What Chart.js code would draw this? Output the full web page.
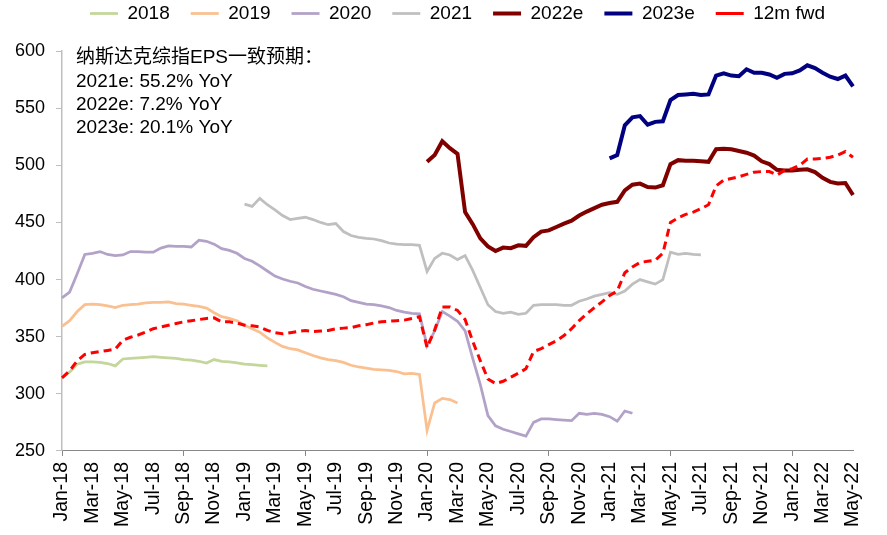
<!DOCTYPE html>
<html>
<head>
<meta charset="utf-8">
<script src="https://cdn.jsdelivr.net/npm/chart.js@4/dist/chart.umd.min.js"></script>
<style>
html,body{margin:0;padding:0;background:#fff;}
#wrap{width:887px;height:535px;position:relative;}
</style>
</head>
<body>
<div id="wrap"><canvas id="c" width="887" height="535" style="width:887px;height:535px"></canvas></div>
<script>
// Categories: half-month observation dates
const categories = [
'2018-01-01','2018-01-16','2018-02-01','2018-02-16','2018-03-01','2018-03-16','2018-04-01','2018-04-16','2018-05-01','2018-05-16','2018-06-01','2018-06-16',
'2018-07-01','2018-07-16','2018-08-01','2018-08-16','2018-09-01','2018-09-16','2018-10-01','2018-10-16','2018-11-01','2018-11-16','2018-12-01','2018-12-16',
'2019-01-01','2019-01-16','2019-02-01','2019-02-16','2019-03-01','2019-03-16','2019-04-01','2019-04-16','2019-05-01','2019-05-16','2019-06-01','2019-06-16',
'2019-07-01','2019-07-16','2019-08-01','2019-08-16','2019-09-01','2019-09-16','2019-10-01','2019-10-16','2019-11-01','2019-11-16','2019-12-01','2019-12-16',
'2020-01-01','2020-01-16','2020-02-01','2020-02-16','2020-03-01','2020-03-16','2020-04-01','2020-04-16','2020-05-01','2020-05-16','2020-06-01','2020-06-16',
'2020-07-01','2020-07-16','2020-08-01','2020-08-16','2020-09-01','2020-09-16','2020-10-01','2020-10-16','2020-11-01','2020-11-16','2020-12-01','2020-12-16',
'2021-01-01','2021-01-16','2021-02-01','2021-02-16','2021-03-01','2021-03-16','2021-04-01','2021-04-16','2021-05-01','2021-05-16','2021-06-01','2021-06-16',
'2021-07-01','2021-07-16','2021-08-01','2021-08-16','2021-09-01','2021-09-16','2021-10-01','2021-10-16','2021-11-01','2021-11-16','2021-12-01','2021-12-16',
'2022-01-01','2022-01-16','2022-02-01','2022-02-16','2022-03-01','2022-03-16','2022-04-01','2022-04-16','2022-05-01'
];

// Tick labels (every two months)
const tickLabels = ['Jan-18','Mar-18','May-18','Jul-18','Sep-18','Nov-18','Jan-19','Mar-19','May-19','Jul-19','Sep-19','Nov-19',
'Jan-20','Mar-20','May-20','Jul-20','Sep-20','Nov-20','Jan-21','Mar-21','May-21','Jul-21','Sep-21','Nov-21','Jan-22','Mar-22','May-22'];

const seriesNames = ['2018','2019','2020','2021','2022e','2023e','12m fwd'];

// EPS consensus values (start date + half-month values)
const start2018 = '2018-01-01';
const eps2018 = [314,319,326,328,328,327.5,326.5,324.5,330.5,331,
331.5,332,332.5,332,331.5,331,330,329.5,328.5,327,
330,328.5,328,327,326,325.5,325,324.5];

const start2019 = '2018-01-01';
const eps2019 = [359,364,372,378,378.5,378,377,375.5,377.5,378,
378.5,379.5,380,380,380.5,379,378.5,377.5,376.5,375,
371,367.5,366,364,360,357,354,349,345,341.5,
339.5,338.5,336,333.5,331.5,330,329,327.5,325,323.5,
322.5,321.5,321,320.5,319.5,317.5,318,317,268,292,
296,295,292];

const start2020 = '2018-01-01';
const eps2020 = [384,389,405,422,423,424.5,422,421,421.5,424.5,
424.5,424,424,427.5,429.5,429,429,428.5,434.5,433.5,
431,427,425.5,423,418.5,416,412,407.5,403,400.5,
398.5,397,394,391.5,390,388.5,387,385,381.5,380,
378.5,378,377,375.5,373,371.5,370.5,370,342,355,
372,368,363.5,355,331,308,281,272,269,267,
265,263,275,278,278,277.5,277,276.5,283,282,
283,282,280,276,285,283];

const start2021 = '2019-01-01';
const eps2021 = [466,464,471,465.5,461,456,452.5,453.5,454.5,452.5,
450,448,449,442,438.5,437,436,435.5,434,432,
431,430.5,430.5,430,407,418.5,423,421.5,417.5,421,
408,393,378,372,370.5,371.5,369.5,370.5,377.5,378,
378,378,377.5,377.5,381,383,385.5,387,388.5,387,
390,396,400,398,396,400,424,422,423,422,
421.5];

const start2022e = '2020-01-01';
const eps2022e = [503,509,521,515,510,459,448.5,436,429,425,
428,427.5,430,429.5,437,442,443,446,449,451.5,
456,459.5,462.5,465.5,467,468,478,483,484,481,
480.5,482.5,501,504.5,504,504,503.5,503,514,514.5,
514,512.5,511,508.5,503.5,501,496,495.5,495.5,496,
496.5,494,489,485.5,484,484.5,474];

const start2023e = '2021-01-01';
const eps2023e = [506,509,535,542,543,535.5,538,538.5,557,561.5,
562,562.5,561.5,562,578.5,580.5,578.5,578,584,581,
581,579.5,576.5,580,580.5,583,587.5,585,581,577.5,
575.5,578.5,569];

const startFwd = '2018-01-01';
const fwd12m = [314,320,329,334.5,336,337,338,339,347,349.5,
351.5,354,357,358.5,360,361.5,363,364,365,366,
366.5,363,363,362,360,359.5,358.5,355.5,353.5,352.5,
353.5,354.5,355.5,354.5,355,355.5,357,357.5,358,359.5,
360.5,362,363,363.5,364,364.5,366,367.5,340.5,356,
376,376,373,365,346,329,313,309,311,314.5,
318,322,337,339.5,343,346.5,351,357,364,370,
375.5,380.5,386,390,406,411,415,416,417,423,
450,454,457,459,462,465.5,482,487,488.5,490,
492,494,494.5,494.5,491.5,495.5,497,500,505.5,505.5,
506,507,509,512,507];

const noteLines = ['纳斯达克综指EPS一致预期：','2021e: 55.2% YoY','2022e: 7.2% YoY','2023e: 20.1% YoY'];

function seriesData(start, values) {
  const s = categories.indexOf(start);
  return values.map((v, k) => ({x: categories[s + k], y: v}));
}

const FONT = "Arial, 'Liberation Sans', 'Noto Sans CJK SC', sans-serif";
Chart.defaults.font.family = FONT;
Chart.defaults.font.size = 18;
Chart.defaults.color = '#000';

function ds(label, start, values, color, width, order, dash) {
  return {
    label: label,
    data: seriesData(start, values),
    borderColor: color,
    backgroundColor: color,
    borderWidth: width,
    borderDash: dash || [],
    pointRadius: 0,
    pointHoverRadius: 0,
    tension: 0,
    fill: false,
    spanGaps: false,
    order: order
  };
}

const notePlugin = {
  id: 'note',
  afterDraw(chart) {
    const ctx = chart.ctx;
    ctx.save();
    ctx.font = '19px ' + FONT;
    ctx.fillStyle = '#000';
    ctx.textAlign = 'left';
    ctx.textBaseline = 'middle';
    const ys = [58, 81.5, 104.5, 127.5];
    noteLines.forEach((t, i) => ctx.fillText(t, 76, ys[i]));
    ctx.restore();
  }
};

new Chart(document.getElementById('c'), {
  type: 'line',
  data: {
    labels: categories,
    datasets: [
      ds(seriesNames[0], start2018, eps2018, '#c3d69b', 2.75, 6),
      ds(seriesNames[1], start2019, eps2019, '#fac090', 2.75, 5),
      ds(seriesNames[2], start2020, eps2020, '#b3a2c7', 2.75, 4),
      ds(seriesNames[3], start2021, eps2021, '#bfbfbf', 2.75, 3),
      ds(seriesNames[4], start2022e, eps2022e, '#800000', 4, 2),
      ds(seriesNames[5], start2023e, eps2023e, '#000080', 4, 1),
      ds(seriesNames[6], startFwd, fwd12m, '#ff0000', 3, 0, [8, 5])
    ]
  },
  options: {
    responsive: false,
    animation: false,
    events: [],
    layout: { padding: { top: -17, left: 13, right: 34, bottom: 2 } },
    plugins: {
      legend: {
        position: 'top',
        align: 'center',
        fullSize: false,
        labels: {
          usePointStyle: true,
          pointStyle: 'line',
          pointStyleWidth: 28,
          padding: 21,
          color: '#000',
          font: { size: 19 },
          sort: (a, b) => a.datasetIndex - b.datasetIndex
        }
      },
      subtitle: {
        display: true,
        text: '',
        position: 'top',
        fullSize: false,
        weight: 500,
        font: { size: 10 },
        padding: { top: 0, bottom: 6 }
      },
      tooltip: { enabled: false }
    },
    scales: {
      x: {
        type: 'category',
        offset: false,
        grid: {
          drawOnChartArea: false,
          drawTicks: true,
          tickLength: 5,
          color: (c) => (c.index % 4 === 0 ? '#888888' : 'rgba(0,0,0,0)'),
          offset: false
        },
        border: { color: '#888888', width: 1 },
        ticks: {
          autoSkip: false,
          minRotation: 90,
          maxRotation: 90,
          padding: 6,
          color: '#000',
          font: { size: 19.5 },
          callback: (v, i) => (i % 4 === 0 ? tickLabels[i / 4] : null)
        }
      },
      y: {
        min: 250,
        max: 600,
        afterFit: (scale) => { scale.width = 49; },
        grid: {
          drawOnChartArea: false,
          drawTicks: true,
          tickLength: 6,
          color: '#bfbfbf'
        },
        border: { color: '#bfbfbf', width: 1.5 },
        ticks: {
          stepSize: 50,
          padding: 11,
          color: '#000',
          font: { size: 18 }
        }
      }
    }
  },
  plugins: [notePlugin]
});
</script>
</body>
</html>
